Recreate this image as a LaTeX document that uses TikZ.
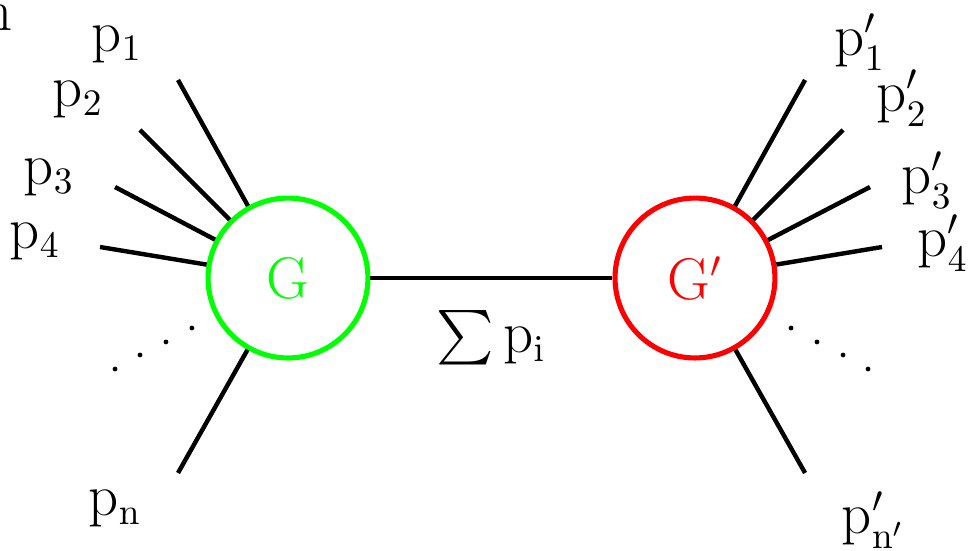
\documentclass[tikz,border=0pt]{standalone}
\usepackage{amsmath,amssymb}
\usepackage{xcolor}
\usepackage{tikz}
\usetikzlibrary{positioning}

\begin{document}
\begin{tikzpicture}[
  blob/.style={circle, line width=1.5pt, minimum size=1.65cm, inner sep=0pt,
               fill=white},
  leg/.style={line width=1.3pt, black},
  lbl/.style={font=\fontsize{16}{19}\selectfont, inner sep=0pt},
  dot/.style={circle, fill=black, inner sep=0pt, minimum size=1.4pt}
]
\useasboundingbox (0,0) rectangle (10,5.686);
%% Blobs
\node[blob, draw=green, text=green, lbl] (G)  at (2.972,2.817) {$\mathrm{G}$};
\node[blob, draw=red, text=red, lbl]     (Gp) at (7.172,2.817) {$\mathrm{G}'$};
\draw[leg] (G) -- (Gp);
\node[lbl] (sum) at (5.067,2.198) {$\sum \mathrm{p}_\mathrm{i}$};
%% Left legs
\coordinate (l1) at (1.837,4.861);
\coordinate (l2) at (1.445,4.345);
\coordinate (l3) at (1.187,3.756);
\coordinate (l4) at (1.032,3.137);
\coordinate (ln) at (1.837,0.805);
\draw[leg] (G) -- (l1); \draw[leg] (G) -- (l2); \draw[leg] (G) -- (l3);
\draw[leg] (G) -- (l4); \draw[leg] (G) -- (ln);
%% Right legs
\coordinate (r1) at (8.308,4.861);
\coordinate (r2) at (8.700,4.345);
\coordinate (r3) at (8.978,3.756);
\coordinate (r4) at (9.102,3.137);
\coordinate (rn) at (8.308,0.805);
\draw[leg] (Gp) -- (r1); \draw[leg] (Gp) -- (r2); \draw[leg] (Gp) -- (r3);
\draw[leg] (Gp) -- (r4); \draw[leg] (Gp) -- (rn);
%% Dots
\foreach \x/\y [count=\i] in {1.187/1.878, 1.445/2.023, 1.713/2.157, 1.981/2.301}
  \node[dot] (dl\i) at (\x,\y) {};
\foreach \x/\y [count=\i] in {8.958/1.878, 8.700/2.023, 8.431/2.157, 8.163/2.301}
  \node[dot] (dr\i) at (\x,\y) {};
%% Labels
\node[lbl] (tp1) at (1.207,5.222) {$\mathrm{p}_1$};
\node[lbl] (tp2) at (0.805,4.654) {$\mathrm{p}_2$};
\node[lbl] (tp3) at (0.506,3.849) {$\mathrm{p}_3$};
\node[lbl] (tp4) at (0.361,3.189) {$\mathrm{p}_4$};
\node[lbl] (tpn) at (1.187,0.433) {$\mathrm{p}_\mathrm{n}$};
\node[lbl] (tq1) at (8.875,5.253) {$\mathrm{p}'_1$};
\node[lbl] (tq2) at (9.309,4.675) {$\mathrm{p}'_2$};
\node[lbl] (tq3) at (9.567,3.829) {$\mathrm{p}'_3$};
\node[lbl] (tq4) at (9.732,3.179) {$\mathrm{p}'_4$};
\node[lbl] (tqn) at (9.009,0.320) {$\mathrm{p}'_{\mathrm{n}'}$};
\node[lbl, anchor=east] (tn) at (0.134,5.50) {$\mathrm{n}$};
\end{tikzpicture}
\end{document}
